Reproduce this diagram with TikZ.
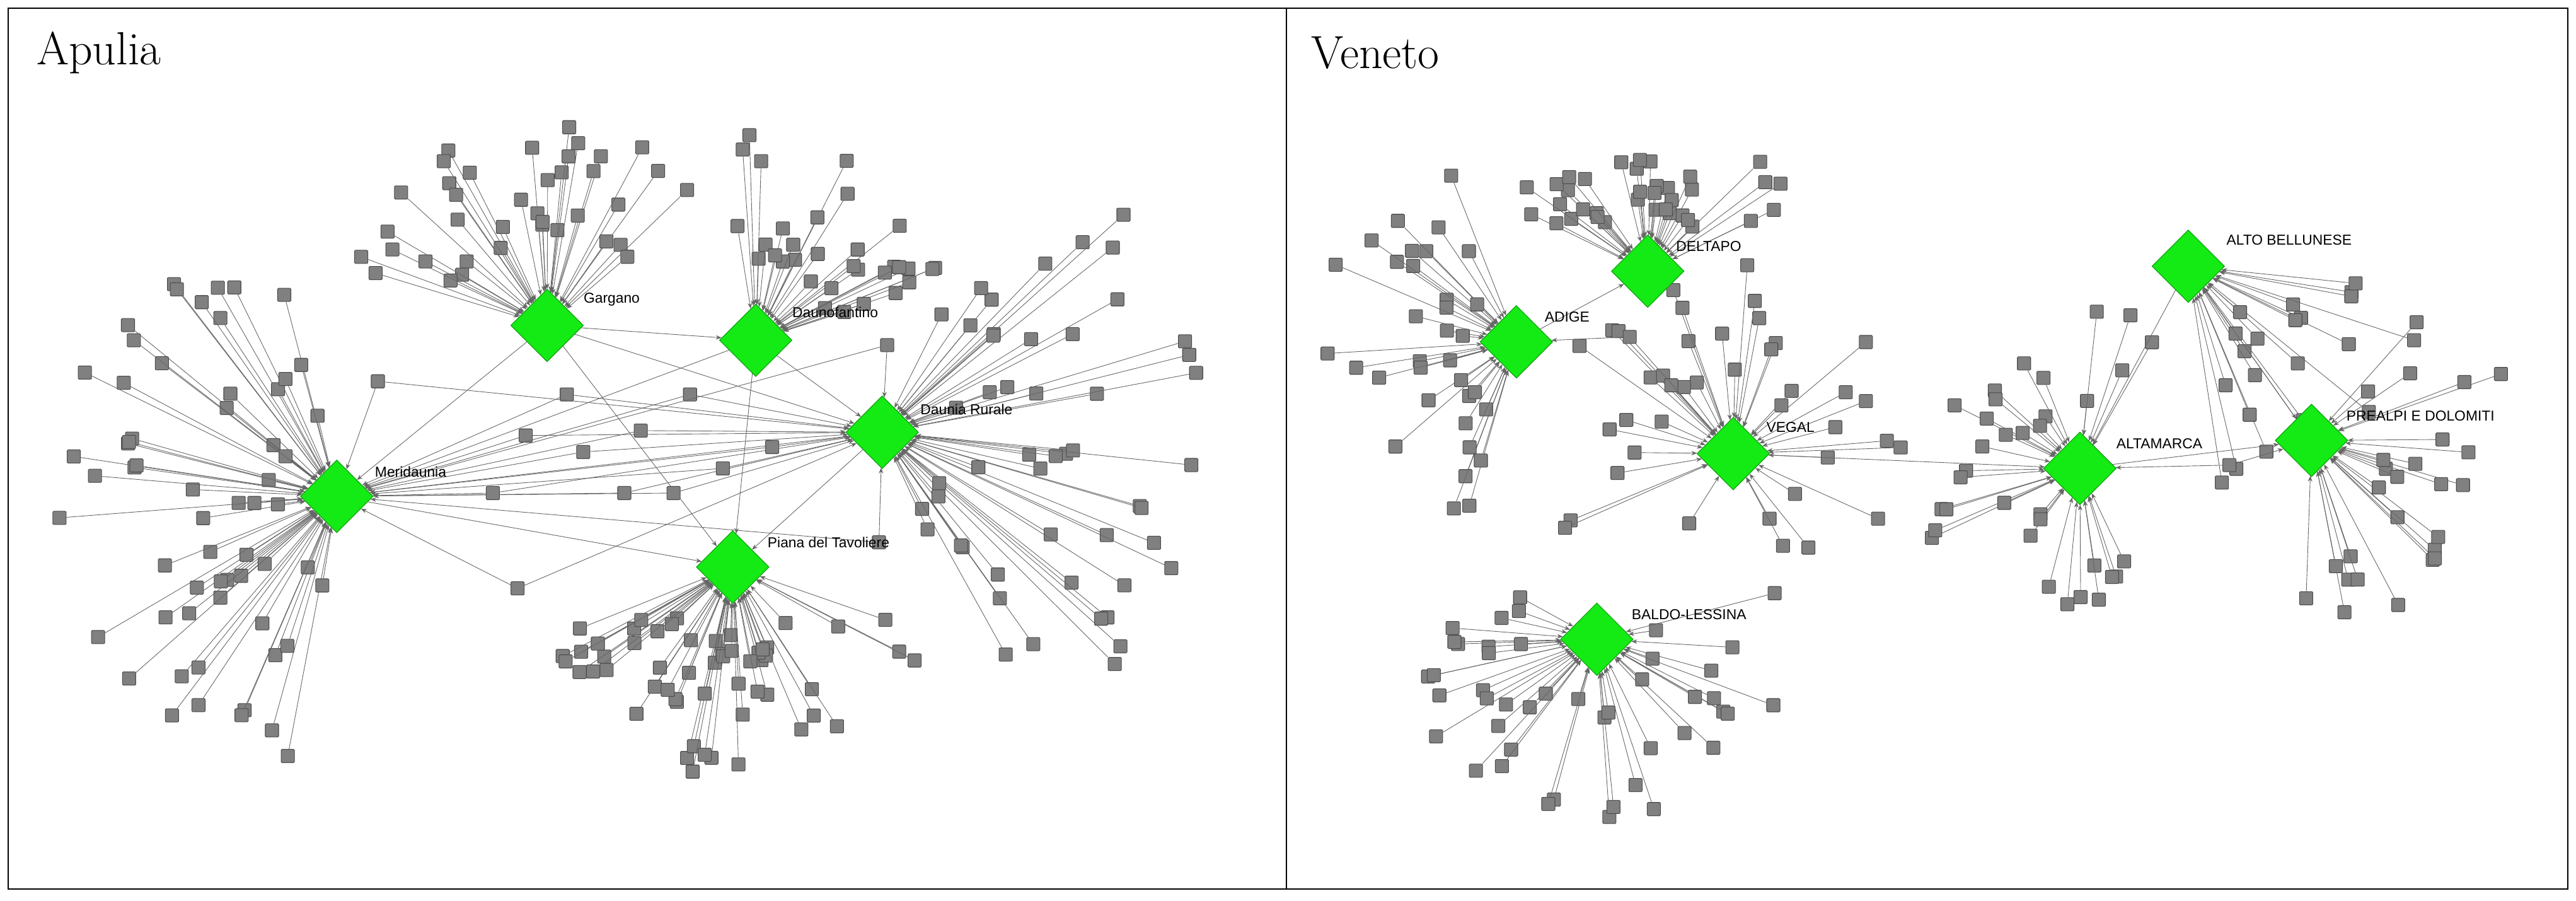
\documentclass[tikz,border=0pt]{standalone}
\usepackage{fontspec}
\newfontfamily\lab{Liberation Sans}
\usetikzlibrary{shapes.geometric,arrows.meta,calc}
\definecolor{hubgreen}{RGB}{20,235,20}
\newcommand\fan[7]{%
 \foreach \i in {1,...,#3}{
  \pgfmathsetmacro\ang{#4+(#5-#4)*rnd}
  \pgfmathsetmacro\rad{#6+(#7-#6)*rnd}
  \node[leaf] (#2\i) at ($(#1)+({\rad*cos(\ang)},{-\rad*sin(\ang)})$) {};
  \draw[edge] (#2\i) -- (#1);
 }}
\begin{document}
\begin{tikzpicture}[x=0.2606mm,y=-0.2606mm,
 hub/.style={diamond,fill=hubgreen,draw=hubgreen!70!black,line width=0.3pt,minimum size=11.5mm,inner sep=0},
 leaf/.style={rectangle,rounded corners=0.4pt,fill=black!50,draw=black!70,line width=0.3pt,minimum size=2.1mm,inner sep=0},
 edge/.style={draw=black!60,line width=0.25pt,-{Stealth[length=0.9mm,width=0.7mm]}},
 hl/.style={anchor=west,font=\lab\fontsize{6.5}{7.5}\selectfont,inner sep=0},
 ttl/.style={anchor=west,font=\fontsize{21}{24}\selectfont,inner sep=0}]
\useasboundingbox (0,0) rectangle (1568,548);
\fill[white] (0,0) rectangle (1568,548);
\draw[line width=0.6pt] (5,5) rectangle (1563,541);
\draw[line width=0.6pt] (783,5) -- (783,541);
\node[ttl] (tA) at (22,32) {Apulia};
\node[ttl] (tV) at (798,32) {Veneto};
\pgfmathsetseed{7}
% Apulia hubs
\node[hub] (gar) at (333,198) {};
\node[hub] (dau) at (460,207) {};
\node[hub] (dr) at (537,263) {};
\node[hub] (mer) at (205,302) {};
\node[hub] (pia) at (446,345) {};
\fan{gar}{g}{38}{40}{165}{50}{125}
\fan{dau}{d}{32}{15}{110}{45}{125}
\fan{dr}{r}{50}{-65}{65}{45}{200}
\fan{mer}{m}{60}{95}{265}{35}{175}
\fan{pia}{p}{55}{195}{345}{40}{128}
\foreach \a/\b in {gar/pia,dau/mer,dr/mer,gar/mer,dau/pia,dr/pia,mer/pia,gar/dau,dau/dr,gar/dr}
  \draw[edge] (\a) -- (\b);
\foreach \x/\y [count=\k] in {320/265,355/275,390/262,410/300,380/300,300/300,470/272,420/240,345/240,440/285,230/232,315/358,540/210,535/330}{
  \node[leaf] (s\k) at (\x,\y) {};
  \draw[edge] (s\k) -- (mer);
  \draw[edge] (s\k) -- (dr);
}
% Veneto hubs
\node[hub] (del) at (1003,165) {};
\node[hub] (adi) at (923,208) {};
\node[hub] (alt) at (1332,162) {};
\node[hub] (veg) at (1055,276) {};
\node[hub] (am) at (1266,285) {};
\node[hub] (pre) at (1407,268) {};
\node[hub] (bal) at (972,389) {};
\fan{del}{e}{36}{25}{160}{35}{105}
\fan{adi}{a}{34}{110}{255}{30}{120}
\fan{veg}{v}{40}{-80}{260}{40}{115}
\fan{bal}{b}{45}{150}{375}{35}{115}
\fan{am}{t}{34}{60}{300}{35}{100}
\fan{alt}{u}{22}{-85}{-5}{40}{150}
\fan{pre}{q}{26}{-100}{50}{45}{130}
\foreach \a/\b in {adi/del,alt/pre,alt/am,veg/am,am/pre}
  \draw[edge] (\a) -- (\b);
\node[leaf] (w1) at (992,205) {};
\draw[edge] (w1) -- (adi); \draw[edge] (w1) -- (veg);
\node[leaf] (w2) at (1357,283) {};
\draw[edge] (w2) -- (am); \draw[edge] (w2) -- (pre);
% redraw hubs on top and labels
\foreach \h in {gar,dau,dr,mer,pia,del,adi,alt,veg,am,pre,bal}
  \node[hub] at (\h) {};
\node[hl] (lgar) at (355,182) {Gargano};
\node[hl] (ldau) at (482,190) {Daunofantino};
\node[hl] (ldr) at (560,249) {Daunia Rurale};
\node[hl] (lmer) at (228,287) {Meridaunia};
\node[hl] (lpia) at (467,330) {Piana del Tavoliere};
\node[hl] (ldel) at (1020,150) {DELTAPO};
\node[hl] (ladi) at (940,193) {ADIGE};
\node[hl] (lalt) at (1355,146) {ALTO BELLUNESE};
\node[hl] (lveg) at (1075,260) {VEGAL};
\node[hl] (lam) at (1288,270) {ALTAMARCA};
\node[hl] (lpre) at (1428,253) {PREALPI E DOLOMITI};
\node[hl] (lbal) at (993,374) {BALDO-LESSINA};
\end{tikzpicture}
\end{document}
